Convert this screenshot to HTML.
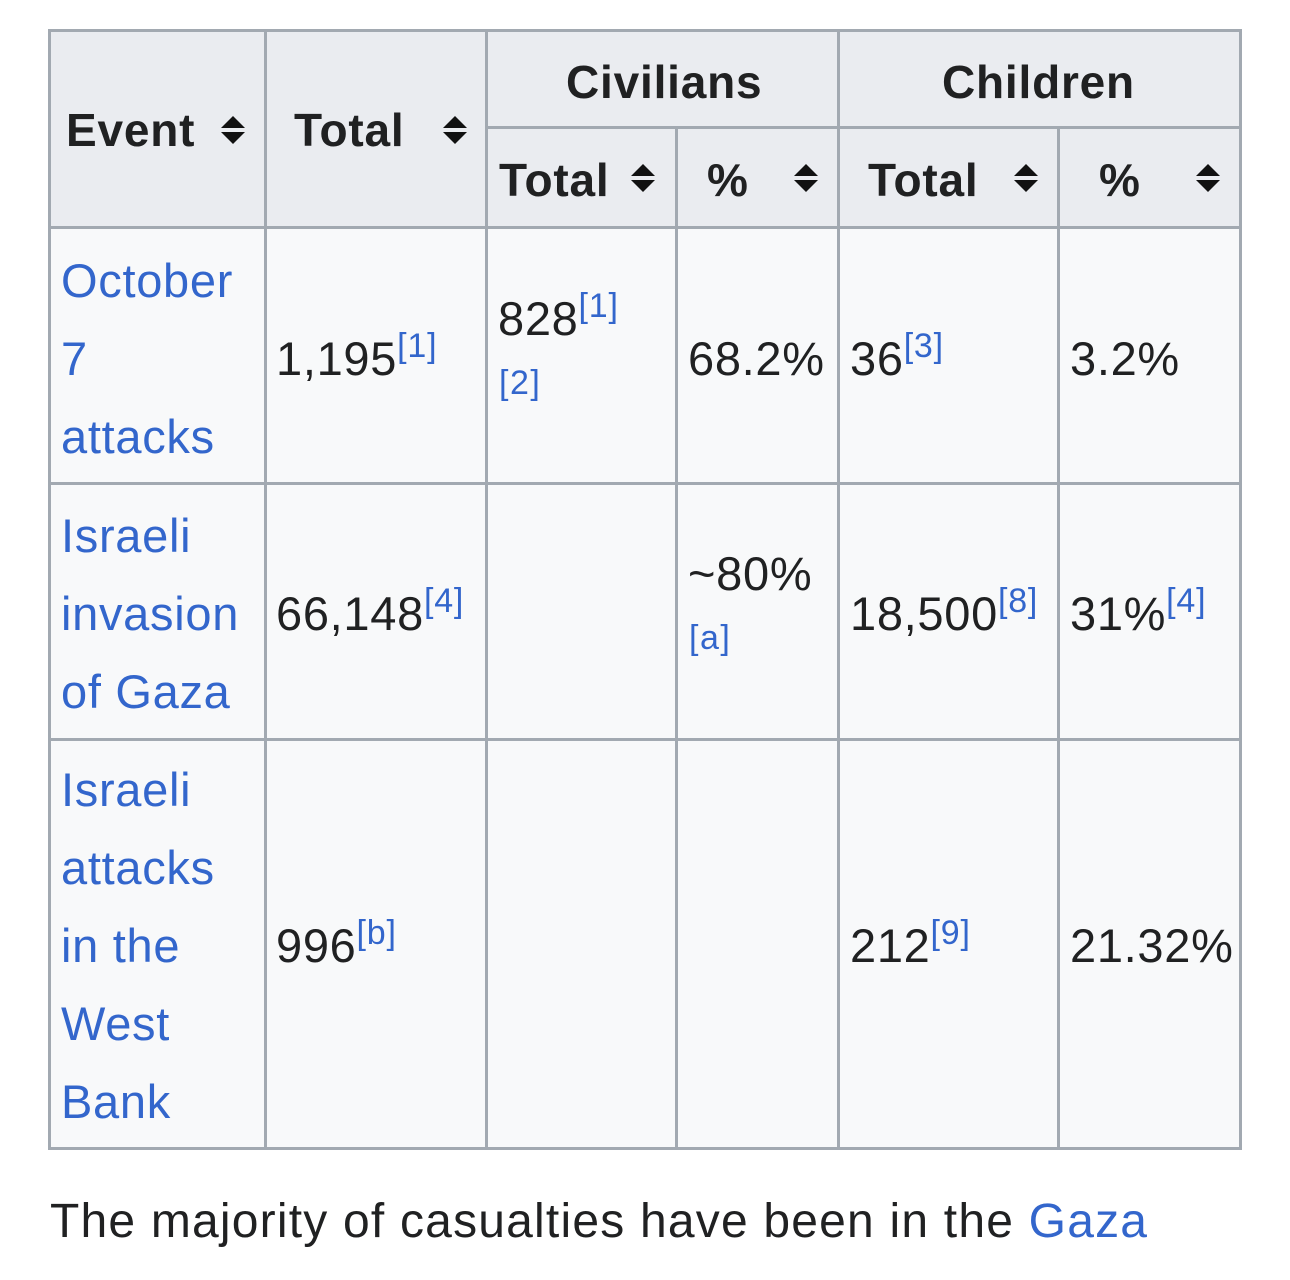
<!DOCTYPE html>
<html><head><meta charset="utf-8"><style>
body{margin:0;width:1290px;height:1280px;background:#fff;position:relative;overflow:hidden;font-family:"Liberation Sans",Arial,sans-serif;color:#202122}
.b{position:absolute;background:#a2a9b1}
.r{position:absolute}
.t{position:absolute;font-size:47px;line-height:47px;white-space:nowrap;letter-spacing:0.7px}
.h{font-weight:bold;font-size:46px;letter-spacing:0.8px}
.l{color:#3366cc}
sup{font-size:34px;color:#3366cc;vertical-align:0;position:relative;top:-18px;line-height:0;letter-spacing:0.8px}
.s{position:absolute;font-size:34px;line-height:34px;color:#3366cc;letter-spacing:1.5px}
svg{position:absolute}
</style></head><body>
<div class="r" style="left:48px;top:29px;width:1193px;height:199px;background:#eaecf0"></div>
<div class="r" style="left:48px;top:228px;width:1193px;height:921px;background:#f8f9fa"></div>
<div class="b" style="left:48px;top:29px;width:1194px;height:3px"></div>
<div class="b" style="left:486px;top:126px;width:756px;height:3px"></div>
<div class="b" style="left:48px;top:226px;width:1194px;height:3px"></div>
<div class="b" style="left:48px;top:482px;width:1194px;height:3px"></div>
<div class="b" style="left:48px;top:738px;width:1194px;height:3px"></div>
<div class="b" style="left:48px;top:1147px;width:1194px;height:3px"></div>
<div class="b" style="left:48px;top:29px;width:3px;height:1121px"></div>
<div class="b" style="left:264px;top:29px;width:3px;height:1121px"></div>
<div class="b" style="left:485px;top:29px;width:3px;height:1121px"></div>
<div class="b" style="left:675px;top:127px;width:3px;height:1023px"></div>
<div class="b" style="left:837px;top:29px;width:3px;height:1121px"></div>
<div class="b" style="left:1057px;top:127px;width:3px;height:1023px"></div>
<div class="b" style="left:1239px;top:29px;width:3px;height:1121px"></div>

<div class="t h" style="left:66px;top:107px">Event</div>
<div class="t h" style="left:294px;top:107px">Total</div>
<div class="t h" style="left:566px;top:59px">Civilians</div>
<div class="t h" style="left:942px;top:59px">Children</div>
<div class="t h" style="left:499px;top:157px">Total</div>
<div class="t h" style="left:707px;top:157px">%</div>
<div class="t h" style="left:868px;top:157px">Total</div>
<div class="t h" style="left:1099px;top:157px">%</div>
<svg style="left:221px;top:116px" width="24" height="28"><path d="M12 0L24 12H0Z M0 16H24L12 28Z" fill="#111"/></svg>
<svg style="left:443px;top:116px" width="24" height="28"><path d="M12 0L24 12H0Z M0 16H24L12 28Z" fill="#111"/></svg>
<svg style="left:631px;top:164px" width="24" height="28"><path d="M12 0L24 12H0Z M0 16H24L12 28Z" fill="#111"/></svg>
<svg style="left:794px;top:164px" width="24" height="28"><path d="M12 0L24 12H0Z M0 16H24L12 28Z" fill="#111"/></svg>
<svg style="left:1014px;top:164px" width="24" height="28"><path d="M12 0L24 12H0Z M0 16H24L12 28Z" fill="#111"/></svg>
<svg style="left:1196px;top:164px" width="24" height="28"><path d="M12 0L24 12H0Z M0 16H24L12 28Z" fill="#111"/></svg>

<div class="t l" style="left:61px;top:257px">October</div>
<div class="t l" style="left:61px;top:335px">7</div>
<div class="t l" style="left:61px;top:413px">attacks</div>
<div class="t" style="left:276px;top:335px">1,195<sup>[1]</sup></div>
<div class="t" style="left:498px;top:295px">828<sup>[1]</sup></div>
<div class="s" style="left:499px;top:366px">[2]</div>
<div class="t" style="left:688px;top:335px">68.2%</div>
<div class="t" style="left:850px;top:335px">36<sup>[3]</sup></div>
<div class="t" style="left:1070px;top:335px">3.2%</div>

<div class="t l" style="left:61px;top:512px">Israeli</div>
<div class="t l" style="left:61px;top:590px">invasion</div>
<div class="t l" style="left:61px;top:668px">of Gaza</div>
<div class="t" style="left:276px;top:590px">66,148<sup>[4]</sup></div>
<div class="t" style="left:688px;top:550px">~80%</div>
<div class="s" style="left:689px;top:621px">[a]</div>
<div class="t" style="left:850px;top:590px">18,500<sup>[8]</sup></div>
<div class="t" style="left:1070px;top:590px">31%<sup>[4]</sup></div>

<div class="t l" style="left:61px;top:766px">Israeli</div>
<div class="t l" style="left:61px;top:844px">attacks</div>
<div class="t l" style="left:61px;top:922px">in the</div>
<div class="t l" style="left:61px;top:1000px">West</div>
<div class="t l" style="left:61px;top:1078px">Bank</div>
<div class="t" style="left:276px;top:922px">996<sup>[b]</sup></div>
<div class="t" style="left:850px;top:922px">212<sup>[9]</sup></div>
<div class="t" style="left:1070px;top:922px">21.32%</div>

<div class="t" style="left:50px;top:1198px;font-size:48px;letter-spacing:1.2px">The majority of casualties have been in the <span class="l">Gaza</span></div>
</body></html>
